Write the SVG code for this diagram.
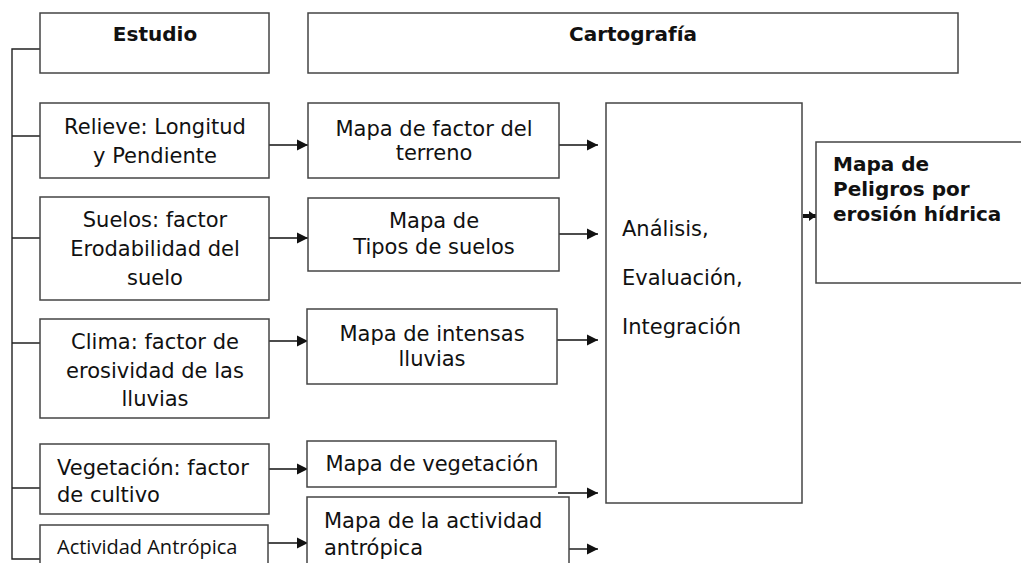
<svg xmlns="http://www.w3.org/2000/svg" width="1021" height="563" viewBox="0 0 1021 563">
<style>
.box{fill:#fff;stroke:#444;stroke-width:1.5}
.t{font-family:"DejaVu Sans",Verdana,sans-serif;font-size:21px;fill:#111}
.b{font-weight:bold;font-size:20px}
.c{text-anchor:middle}
.o{font-family:"Open Sans",sans-serif;font-size:20px;fill:#111}
.ln{stroke:#222;stroke-width:1.4;fill:none}
.ar{stroke:#111;stroke-width:1.4;fill:none;marker-end:url(#ah)}
</style>
<defs>
<marker id="ah" markerUnits="userSpaceOnUse" markerWidth="12" markerHeight="12" refX="11" refY="6" orient="auto">
<path d="M0,0.5 L11,6 L0,11.5 Z" fill="#111"/>
</marker>
<marker id="ah2" markerUnits="userSpaceOnUse" markerWidth="8" markerHeight="10" refX="7" refY="5" orient="auto">
<path d="M0,0 L7,5 L0,10 Z" fill="#111"/>
</marker>
</defs>
<rect width="1021" height="563" fill="#fff"/>
<g id="connectors">
<path class="ln" d="M40,49 H12 V559 H40 M12,136 H40 M12,238 H40 M12,343 H40 M12,488 H40"/>
<line class="ar" x1="269" y1="145" x2="308" y2="145"/>
<line class="ar" x1="269" y1="238" x2="308" y2="238"/>
<line class="ar" x1="269" y1="341" x2="308" y2="341"/>
<line class="ar" x1="269" y1="469" x2="308" y2="469"/>
<line class="ar" x1="268" y1="543" x2="308" y2="543"/>
<line class="ar" x1="559" y1="145" x2="598" y2="145"/>
<line class="ar" x1="559" y1="234" x2="598" y2="234"/>
<line class="ar" x1="557" y1="340" x2="598" y2="340"/>
<line class="ar" x1="558" y1="493" x2="598" y2="493"/>
<line class="ar" x1="569" y1="549" x2="598" y2="549"/>
<line x1="803" y1="216" x2="816" y2="216" stroke="#111" stroke-width="4" marker-end="url(#ah2)"/>
</g>
<g id="estudio">
<rect class="box" x="40" y="13" width="229" height="60"/>
<text class="t b c" x="155" y="41">Estudio</text>
</g>
<g id="cartografia">
<rect class="box" x="308" y="13" width="650" height="60"/>
<text class="t b c" x="633" y="41">Cartografía</text>
</g>
<g id="relieve">
<rect class="box" x="40" y="103" width="229" height="75"/>
<text class="t c" x="155" y="134">Relieve: Longitud</text>
<text class="t c" x="155" y="163">y Pendiente</text>
</g>
<g id="suelos">
<rect class="box" x="40" y="197" width="229" height="103"/>
<text class="t c" x="155" y="227">Suelos: factor</text>
<text class="t c" x="155" y="256">Erodabilidad del</text>
<text class="t c" x="155" y="285">suelo</text>
</g>
<g id="clima">
<rect class="box" x="40" y="319" width="229" height="99"/>
<text class="t c" x="155" y="349">Clima: factor de</text>
<text class="t c" x="155" y="378">erosividad de las</text>
<text class="t c" x="155" y="406">lluvias</text>
</g>
<g id="vegetacion">
<rect class="box" x="40" y="444" width="229" height="70"/>
<text class="t" x="57" y="475">Vegetación: factor</text>
<text class="t" x="57" y="502">de cultivo</text>
</g>
<g id="actividad">
<rect class="box" x="40" y="525" width="228" height="60"/>
<text class="o" x="57" y="554">Actividad Antrópica</text>
</g>
<g id="mapa-terreno">
<rect class="box" x="308" y="103" width="251" height="75"/>
<text class="t c" x="434" y="136">Mapa de factor del</text>
<text class="t c" x="434" y="160">terreno</text>
</g>
<g id="mapa-suelos">
<rect class="box" x="308" y="198" width="251" height="73"/>
<text class="t c" x="434" y="228">Mapa de</text>
<text class="t c" x="434" y="254">Tipos de suelos</text>
</g>
<g id="mapa-lluvias">
<rect class="box" x="307" y="309" width="250" height="75"/>
<text class="t c" x="432" y="341">Mapa de intensas</text>
<text class="t c" x="432" y="366">lluvias</text>
</g>
<g id="mapa-vegetacion">
<rect class="box" x="307" y="441" width="249" height="46"/>
<text class="t c" x="432" y="471">Mapa de vegetación</text>
</g>
<g id="mapa-actividad">
<rect class="box" x="307" y="497" width="262" height="90"/>
<text class="t" x="324" y="528">Mapa de la actividad</text>
<text class="t" x="324" y="555">antrópica</text>
</g>
<g id="analisis">
<rect class="box" x="606" y="103" width="196" height="400"/>
<text class="t" x="622" y="236">Análisis,</text>
<text class="t" x="622" y="285">Evaluación,</text>
<text class="t" x="622" y="334">Integración</text>
</g>
<g id="mapa-peligros">
<rect class="box" x="816" y="142" width="220" height="141"/>
<text class="t b" x="833" y="171">Mapa de</text>
<text class="t b" x="833" y="196">Peligros por</text>
<text class="t b" x="833" y="221">erosión hídrica</text>
</g>
</svg>
